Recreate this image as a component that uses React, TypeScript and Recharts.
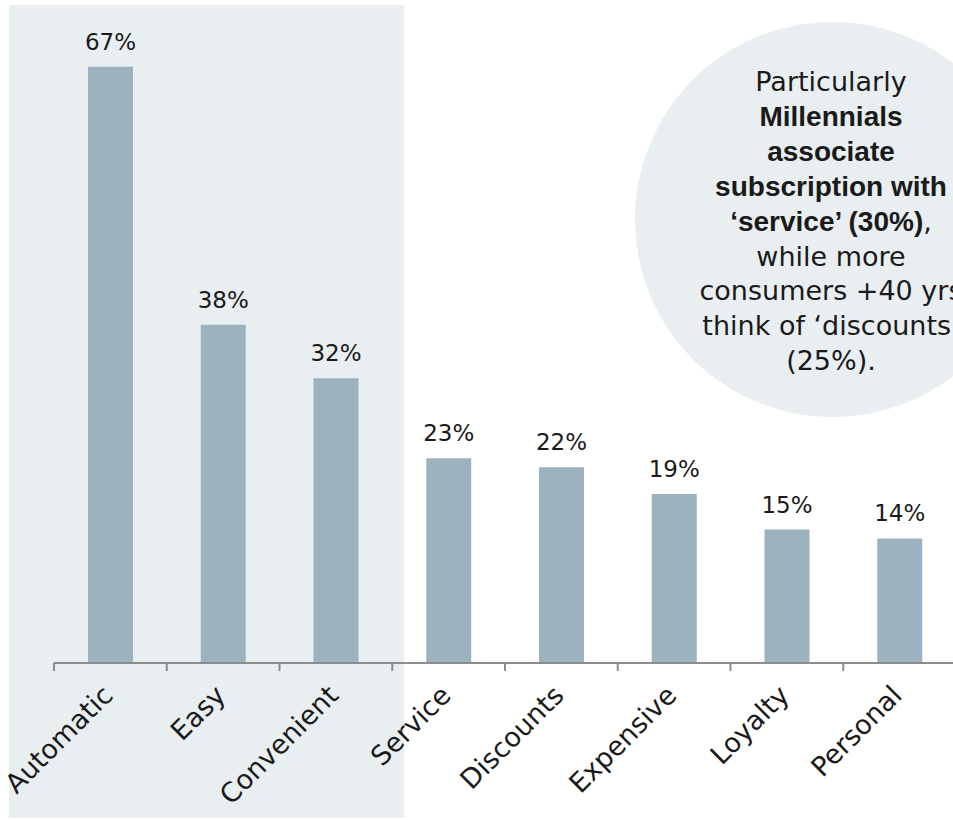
import React from 'react';
import { BarChart, Bar, XAxis, YAxis, LabelList } from 'recharts';

const categories = ['Automatic', 'Easy', 'Convenient', 'Service', 'Discounts', 'Expensive', 'Loyalty', 'Personal'];
const values = [67, 38, 32, 23, 22, 19, 15, 14];

type Part = { text: string; bold?: boolean };
const calloutLines: Part[][] = [
  [{ text: 'Particularly' }],
  [{ text: 'Millennials', bold: true }],
  [{ text: 'associate', bold: true }],
  [{ text: 'subscription with', bold: true }],
  [{ text: '\u2018service\u2019 (30%)', bold: true }, { text: ',' }],
  [{ text: 'while more' }],
  [{ text: 'consumers +40 yrs' }],
  [{ text: 'think of \u2018discounts\u2019' }],
  [{ text: '(25%).' }],
];

const data = categories.map((name, i) => ({ name, value: values[i] }));

const W = 953;
const H = 820;
const CHART_W = 956;
const MARGIN_TOP = 40;
const MARGIN_LEFT = 54;
const XAXIS_H = 157;
const AXIS_Y = H - XAXIS_H;
const BAR_COLOR = '#9cb2be';
const SHADE = '#e9eef1';
const TEXT = '#1a1a1a';
const AXIS_COLOR = '#8c8c8c';
const REG_FONT = '"DejaVu Sans", sans-serif';
const BOLD_FONT = '"Liberation Sans", Arial, sans-serif';

const Tick = (props: any) => {
  const { x, payload } = props;
  const half = payload && typeof payload.offset === 'number' && payload.offset > 0 ? payload.offset : (CHART_W - MARGIN_LEFT) / categories.length / 2;
  const ax = x + 4;
  const ay = AXIS_Y + 34;
  return (
    <g>
      <line x1={x - half} x2={x - half} y1={AXIS_Y} y2={AXIS_Y + 8} stroke={AXIS_COLOR} strokeWidth={2} />
      <text
        x={ax}
        y={ay}
        transform={`rotate(-45, ${ax}, ${ay})`}
        textAnchor="end"
        fontFamily={REG_FONT}
        fontSize={27}
        fill={TEXT}
      >
        {payload.value}
      </text>
    </g>
  );
};

export default function App() {
  const cx = 832.5;
  const cy = 219.5;
  const r = 197.5;
  const firstBaseline = 91;
  const lineStep = 34.9;
  return (
    <div style={{ position: 'absolute', left: 0, top: 0, width: W, height: H, overflow: 'hidden', background: '#ffffff' }}>
      <div style={{ position: 'absolute', left: 9, top: 5, width: 395, height: 813, background: SHADE }} />
      <svg width={W} height={H} style={{ position: 'absolute', left: 0, top: 0 }}>
        <circle cx={cx} cy={cy} r={r} fill={SHADE} />
        {calloutLines.map((parts, i) => (
          <text key={i} x={831} y={firstBaseline + i * lineStep} textAnchor="middle" fill={TEXT}>
            {parts.map((p, j) => (
              <tspan
                key={j}
                fontFamily={p.bold ? BOLD_FONT : REG_FONT}
                fontWeight={p.bold ? 700 : 400}
                fontSize={p.bold ? 28 : 27}
              >
                {p.text}
              </tspan>
            ))}
          </text>
        ))}
      </svg>
      <div style={{ position: 'absolute', left: 0, top: 0 }}>
        <BarChart
          width={CHART_W}
          height={H}
          data={data}
          margin={{ top: MARGIN_TOP, right: 0, left: MARGIN_LEFT, bottom: 0 }}
        >
          <XAxis
            dataKey="name"
            height={XAXIS_H}
            interval={0}
            tickLine={false}
            axisLine={{ stroke: AXIS_COLOR, strokeWidth: 2 }}
            tick={<Tick />}
          />
          <YAxis hide domain={[0, 70]} />
          <Bar dataKey="value" fill={BAR_COLOR} barSize={45} isAnimationActive={false}>
            <LabelList
              dataKey="value"
              position="top"
              offset={17}
              formatter={(v: any) => `${v}%`}
              fill={TEXT}
              fontSize={23}
              fontFamily={REG_FONT}
            />
          </Bar>
        </BarChart>
      </div>
    </div>
  );
}
